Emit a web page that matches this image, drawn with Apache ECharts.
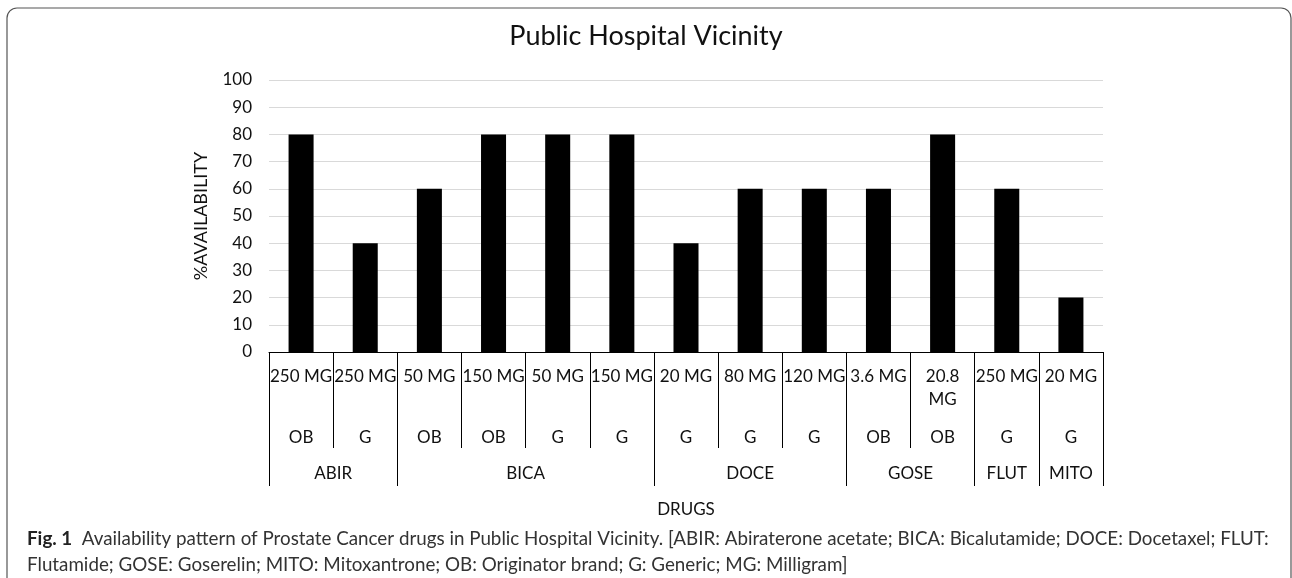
<!DOCTYPE html>
<html>
<head>
<meta charset="utf-8">
<title>Public Hospital Vicinity</title>
<script src="https://cdn.jsdelivr.net/npm/echarts@6/dist/echarts.min.js"></script>
<style>
  html, body { margin: 0; padding: 0; background: #fff; }
  #main { width: 1292px; height: 578px; }
</style>
</head>
<body>
<div id="main"></div>
<script>
// 数据
const doses = ['250 MG', '250 MG', '50 MG', '150 MG', '50 MG', '150 MG', '20 MG', '80 MG', '120 MG', '3.6 MG', '20.8\nMG', '250 MG', '20 MG'];
const brands = ['OB', 'G', 'OB', 'OB', 'G', 'G', 'G', 'G', 'G', 'OB', 'OB', 'G', 'G'];
const groupNames = ['ABIR', 'BICA', 'DOCE', 'GOSE', 'FLUT', 'MITO'];
const groupSizes = [2, 4, 3, 2, 1, 1];
const availability = [80, 40, 60, 80, 80, 80, 40, 60, 60, 60, 80, 60, 20];

const FONT = 'Lato';

// 组的分隔线位置和标签中心
let groupEdges = [0];
let groupCenters = [];
groupSizes.forEach(function (n, i) {
    let start = groupEdges[i];
    groupEdges.push(start + n);
    groupCenters.push(start + n / 2);
});

function groupLabel(v) {
    for (let i = 0; i < groupCenters.length; i++) {
        if (Math.abs(groupCenters[i] - v) < 1e-6) return groupNames[i];
    }
    return '';
}

let myChart = echarts.init(document.getElementById('main'));
myChart.setOption({
    animation: false,
    textStyle: { fontFamily: FONT },
    title: [
        {
            text: 'Public Hospital Vicinity',
            left: 'center', top: 18,
            textStyle: { fontFamily: FONT, fontSize: 27, fontWeight: 'normal', color: '#111' }
        },
        {
            text: '{b|Fig. 1}  Availability pattern of Prostate Cancer drugs in Public Hospital Vicinity. [ABIR: Abiraterone acetate; BICA: Bicalutamide; DOCE: Docetaxel; FLUT:',
            left: 22, top: 524,
            textStyle: {
                fontFamily: FONT, fontSize: 18.8, fontWeight: 'normal', color: '#333',
                rich: { b: { fontFamily: FONT, fontSize: 18.8, fontWeight: 'bold', color: '#222' } }
            }
        },
        {
            text: 'Flutamide; GOSE: Goserelin; MITO: Mitoxantrone; OB: Originator brand; G: Generic; MG: Milligram]',
            left: 22, top: 550,
            textStyle: { fontFamily: FONT, fontSize: 18.8, fontWeight: 'normal', color: '#333' }
        }
    ],
    graphic: [{
        type: 'rect',
        shape: { x: 7, y: 8, width: 1284, height: 580, r: 10 },
        style: { fill: 'none', stroke: '#555', lineWidth: 1.2 },
        silent: true
    }],
    grid: { left: 269, right: 189, top: 80, bottom: 226 },
    xAxis: [
        {
            // 剂量 + 柱子
            type: 'category',
            position: 'bottom',
            data: doses,
            axisLine: { lineStyle: { color: '#000', width: 1 } },
            axisTick: { show: true, interval: 0, length: 96, lineStyle: { color: '#000' } },
            axisLabel: { interval: 0, margin: 13, fontSize: 17, lineHeight: 23, color: '#111', fontFamily: FONT },
            name: 'DRUGS',
            nameLocation: 'middle',
            nameGap: 149,
            nameTextStyle: { fontSize: 17, color: '#111', fontFamily: FONT }
        },
        {
            // OB / G
            type: 'category',
            position: 'bottom',
            data: brands,
            axisLine: { show: false },
            axisTick: { show: false },
            axisLabel: { interval: 0, margin: 74, fontSize: 17, lineHeight: 23, color: '#111', fontFamily: FONT }
        },
        {
            // 药物组
            type: 'value',
            position: 'bottom',
            min: 0,
            max: doses.length,
            axisLine: { show: false },
            splitLine: { show: false },
            axisTick: { show: true, customValues: groupEdges, length: 134, lineStyle: { color: '#000' } },
            axisLabel: {
                customValues: groupCenters, margin: 110, fontSize: 17, lineHeight: 23,
                color: '#111', fontFamily: FONT, formatter: groupLabel
            }
        }
    ],
    yAxis: {
        type: 'value',
        min: 0, max: 100, interval: 10,
        axisLine: { show: false },
        axisTick: { show: false },
        splitLine: { lineStyle: { color: '#d9d9d9', width: 1 } },
        axisLabel: { margin: 17, fontSize: 17, color: '#111', fontFamily: FONT },
        name: '%AVAILABILITY',
        nameLocation: 'middle',
        nameGap: 59,
        nameTextStyle: { fontSize: 18, color: '#111', fontFamily: FONT }
    },
    series: [{
        name: '%AVAILABILITY',
        type: 'bar',
        xAxisIndex: 0,
        yAxisIndex: 0,
        data: availability,
        barWidth: '39%',
        itemStyle: { color: '#000' }
    }]
});
</script>
</body>
</html>
